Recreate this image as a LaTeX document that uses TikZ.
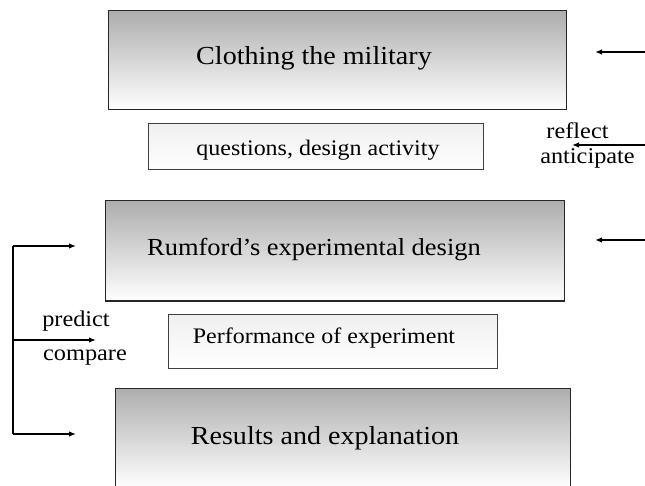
\documentclass[tikz,border=0pt]{standalone}
\usepackage{fontspec}
\setmainfont[FakeStretch=1.08]{Liberation Serif}
\usetikzlibrary{arrows.meta}
\begin{document}
\begin{tikzpicture}[x=1pt,y=-1pt,
  bigbox/.style={draw=black!85,line width=1pt,rectangle,inner sep=0pt,
    top color=black!32,bottom color=white},
  smallbox/.style={draw=black!75,line width=1pt,rectangle,inner sep=0pt,
    top color=black!6,bottom color=white},
  bigtxt/.style={font=\fontsize{26}{30}\selectfont,inner sep=0pt},
  smalltxt/.style={font=\fontsize{22.2}{26}\selectfont,inner sep=0pt},
  sidetxt/.style={font=\fontsize{22.5}{26}\selectfont,inner sep=0pt},
  arr/.style={line width=1.3pt,-{Latex[length=7pt,width=5.5pt]}},
  ln/.style={line width=1.3pt}]
\useasboundingbox (0,0) rectangle (645,486);
% boxes
\node[bigbox,minimum width=458pt,minimum height=99pt] (b1) at (337,60.5) {};
\node[smallbox,minimum width=335pt,minimum height=46pt] (b2) at (315.5,147) {};
\node[bigbox,minimum width=459pt,minimum height=100pt] (b3) at (334.5,251) {};
\node[smallbox,minimum width=329pt,minimum height=54pt] (b4) at (332.5,341) {};
\node[bigbox,minimum width=455pt,minimum height=100pt] (b5) at (342.5,438) {};
% texts
\node[bigtxt] (t1) at (314,58) {Clothing the military};
\node[smalltxt] (t2) at (318,150) {questions, design activity};
\node[bigtxt,font=\fontsize{24.5}{28}\selectfont] (t3) at (314,250) {Rumford’s experimental design};
\node[smalltxt] (t4) at (324,338) {Performance of experiment};
\node[bigtxt] (t5) at (325,438) {Results and explanation};
% right side
\coordinate (r1s) at (645,52);  \coordinate (r1e) at (595,52);
\coordinate (r2s) at (645,145); \coordinate (r2e) at (572,145);
\coordinate (r3s) at (645,240); \coordinate (r3e) at (595,240);
\draw[arr] (r1s) -- (r1e);
\draw[arr] (r2s) -- (r2e);
\draw[arr] (r3s) -- (r3e);
\node[sidetxt] (reflect) at (577.5,131) {reflect};
\node[sidetxt] (antic) at (587.5,158) {anticipate};
% left side
\coordinate (lt) at (13,246); \coordinate (lm) at (13,340); \coordinate (lb) at (13,434);
\coordinate (lte) at (76,246); \coordinate (lme) at (96,340); \coordinate (lbe) at (76,434);
\draw[ln] (lt) -- (lb);
\draw[arr] (lt) -- (lte);
\draw[arr] (lm) -- (lme);
\draw[arr] (lb) -- (lbe);
\node[sidetxt] (pred) at (76,321) {predict};
\node[sidetxt] (comp) at (85,358) {compare};
\end{tikzpicture}
\end{document}
